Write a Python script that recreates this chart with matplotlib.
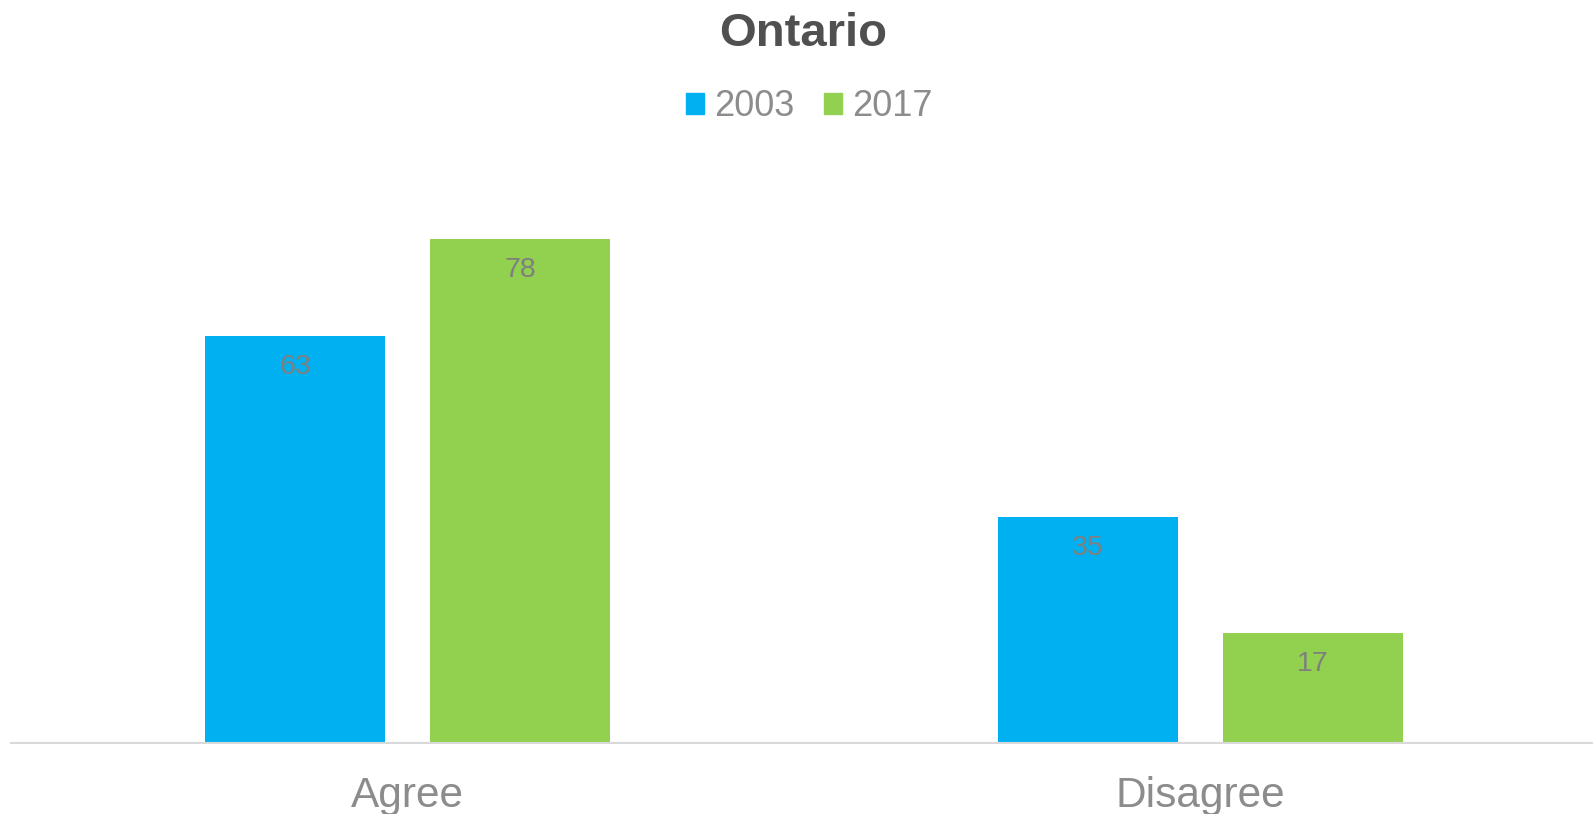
import numpy as np
import matplotlib.pyplot as plt
from matplotlib.patches import Patch

plt.rcParams['font.family'] = ['Liberation Sans', 'DejaVu Sans']

categories = ['Agree', 'Disagree']
years = ['2003', '2017']
values_2003 = [63, 35]
values_2017 = [78, 17]

colors = ['#00B0F0', '#92D050']
label_color = '#7F7F7F'
tick_color = '#8C8C8C'

fig = plt.figure(figsize=(15.93, 8.14), dpi=100)
# axes placed in pixels: baseline at y=743, left at x=11
ax = fig.add_axes([11/1593, (814-743)/814, 1586/1593, 581/814])

x = np.arange(len(categories))
width = 0.226
offset = 0.142

bars1 = ax.bar(x - offset, values_2003, width, color=colors[0])
bars2 = ax.bar(x + offset, values_2017, width, color=colors[1])

#value labels just inside the top of each bar
for bars in [bars1, bars2]:
	for b in bars:
		h = b.get_height()
		ax.annotate(str(h), (b.get_x() + b.get_width()/2, h), xytext=(0, -22),
			textcoords='offset points', ha='center', va='center',
			fontsize=20.5, color=label_color)

ax.set_xlim(-0.5, 1.5)
ax.set_ylim(0, 90)
ax.set_yticks([])
ax.set_xticks(x)
ax.set_xticklabels(categories, fontsize=30.5, color=tick_color)
ax.tick_params(axis='x', length=0, pad=24)
for s in ['top', 'right', 'left']:
	ax.spines[s].set_visible(False)
ax.spines['bottom'].set_color('#D9D9D9')
ax.spines['bottom'].set_linewidth(1.5)

fig.text(0.504, 1 - 34/814, 'Ontario', ha='center', va='center',
	fontsize=34, fontweight='bold', color='#505050')

handles = [Patch(color=c) for c in colors]
fig.legend(handles, years, loc='center', bbox_to_anchor=(0.508, 1 - 107/814),
	ncol=2, frameon=False, fontsize=26, labelcolor=tick_color,
	handlelength=0.5, handleheight=0.5, handletextpad=0.3, columnspacing=0.8)

plt.savefig('out.png', dpi=100)
